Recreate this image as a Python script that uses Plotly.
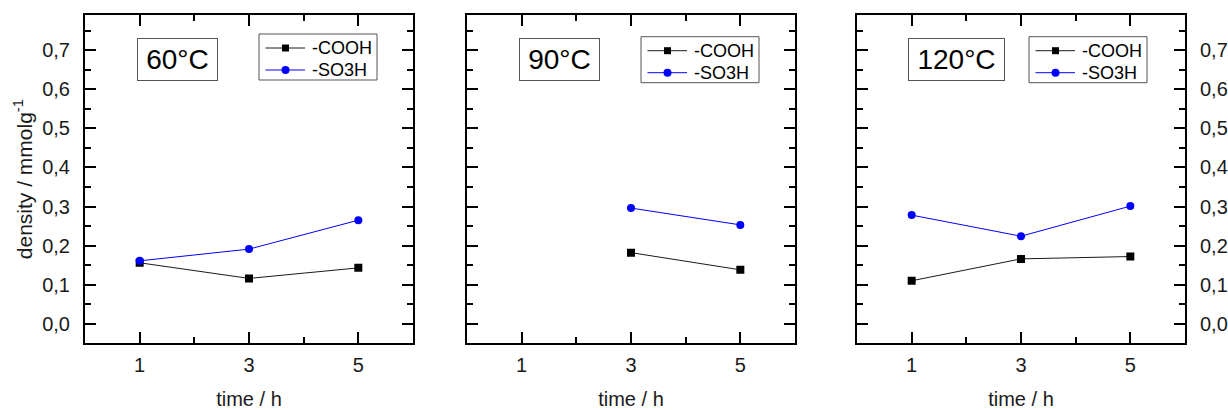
import plotly.graph_objects as go

# ---- data ----
times = [1, 3, 5]
panel_labels = ["60°C", "90°C", "120°C"]
series_names = ["-COOH", "-SO3H"]
cooh_60 = [0.156, 0.116, 0.143]
so3h_60 = [0.161, 0.191, 0.265]
cooh_90 = [None, 0.182, 0.138]
so3h_90 = [None, 0.296, 0.253]
cooh_120 = [0.110, 0.166, 0.172]
so3h_120 = [0.278, 0.224, 0.301]
y_tickvals = [0.0, 0.1, 0.2, 0.3, 0.4, 0.5, 0.6, 0.7]
x_tickvals = [1, 3, 5]

W, H = 1228, 410
FONT = "Liberation Sans, Arial, sans-serif"
TXT = "#1a1a1a"
series_colors = ["black", "#0000ff"]
line_colors = ["#1a1a1a", "#0000ff"]
series_symbols = ["square", "circle"]

panels = [(cooh_60, so3h_60), (cooh_90, so3h_90), (cooh_120, so3h_120)]
x_px = [(85, 413), (467, 795), (857, 1185)]
y_dom = [(H - 343.3) / H, (H - 15) / H]

fig = go.Figure()
for i, pdata in enumerate(panels):
    sfx = "" if i == 0 else str(i + 1)
    for k, vals in enumerate(pdata):
        fig.add_trace(go.Scatter(
            x=times, y=vals, name=series_names[k], mode="lines+markers",
            line=dict(color=line_colors[k], width=1),
            marker=dict(symbol=series_symbols[k], size=8, color=series_colors[k]),
            xaxis="x" + sfx, yaxis="y" + sfx, showlegend=False,
            connectgaps=False))

layout = dict(
    width=W, height=H, margin=dict(l=0, r=0, t=0, b=0),
    paper_bgcolor="white", plot_bgcolor="white",
    separators=",.", font=dict(family=FONT, color=TXT, size=20),
    annotations=[], shapes=[], showlegend=False,
)

for i in range(3):
    sfx = "" if i == 0 else str(i + 1)
    x0, x1 = x_px[i]
    layout["xaxis" + sfx] = dict(
        domain=[x0 / W, x1 / W], range=[0, 6], anchor="y" + sfx,
        tickvals=x_tickvals, ticks="inside", ticklen=11, tickwidth=2,
        tickcolor="black", showline=True, linecolor="black", linewidth=2,
        mirror="ticks", showgrid=False, zeroline=False,
        minor=dict(dtick=1, tick0=0, ticks="inside", ticklen=6, tickwidth=2,
                   tickcolor="black", showgrid=False),
        tickfont=dict(size=20, color=TXT), ticklabelstandoff=3,
        title=dict(text="time / h", font=dict(size=20, color=TXT), standoff=19),
    )
    ydict = dict(
        domain=list(y_dom), range=[-0.05, 0.79], anchor="x" + sfx,
        tickvals=y_tickvals, ticks="inside", ticklen=11, tickwidth=2,
        tickcolor="black", showline=True, linecolor="black", linewidth=2,
        mirror="ticks", showgrid=False, zeroline=False, tickformat=".1f",
        minor=dict(dtick=0.05, tick0=0, ticks="inside", ticklen=6, tickwidth=2,
                   tickcolor="black", showgrid=False),
        tickfont=dict(size=20, color=TXT), ticklabelstandoff=9,
    )
    if i == 0:
        ydict["title"] = dict(text="density / mmolg<sup>-1</sup>",
                              font=dict(size=21, color=TXT), standoff=4)
    elif i == 1:
        ydict["showticklabels"] = False
    else:
        ydict["side"] = "right"
    layout["yaxis" + sfx] = ydict

def px(x):
    return x / W

def py(y):
    return 1 - y / H

# panel temperature labels
label_boxes = [(177.2, 59.7, 79), (559.5, 59.2, 79), (956.7, 59.2, 95)]
for (cx, cy, w), txt in zip(label_boxes, panel_labels):
    layout["annotations"].append(dict(
        text=txt, x=px(cx), y=py(cy), xref="paper", yref="paper",
        xanchor="center", yanchor="middle", showarrow=False,
        font=dict(size=28, color="black", family=FONT),
        width=w, height=41, borderpad=0, borderwidth=1, bordercolor="#555555",
        bgcolor="white"))

# legends (one per panel)
legend_pos = [(259, 34), (641, 36.7), (1029, 36.7)]
LW, LH = 118, 46
for lx, ly in legend_pos:
    layout["shapes"].append(dict(
        type="rect", xref="paper", yref="paper",
        x0=px(lx), x1=px(lx + LW), y0=py(ly), y1=py(ly + LH),
        line=dict(color="#555555", width=1), fillcolor="white", layer="above"))
    for k, name in enumerate(series_names):
        ry = ly + 14 + 22 * k
        layout["shapes"].append(dict(
            type="line", xref="paper", yref="paper",
            x0=px(lx + 6.5), x1=px(lx + 46), y0=py(ry), y1=py(ry),
            line=dict(color=line_colors[k], width=1), layer="above"))
        mx = lx + 26.5
        r = 3.5 if k == 0 else 4
        layout["shapes"].append(dict(
            type="rect" if series_symbols[k] == "square" else "circle",
            xref="paper", yref="paper",
            x0=px(mx - r), x1=px(mx + r), y0=py(ry + r), y1=py(ry - r),
            line=dict(color=series_colors[k], width=0),
            fillcolor=series_colors[k], layer="above"))
        layout["annotations"].append(dict(
            text=name, x=px(lx + 51), y=py(ry), xref="paper", yref="paper",
            xanchor="left", yanchor="middle", showarrow=False,
            font=dict(size=18, color="black", family=FONT)))

fig.update_layout(**layout)
fig.write_html("out.html")
